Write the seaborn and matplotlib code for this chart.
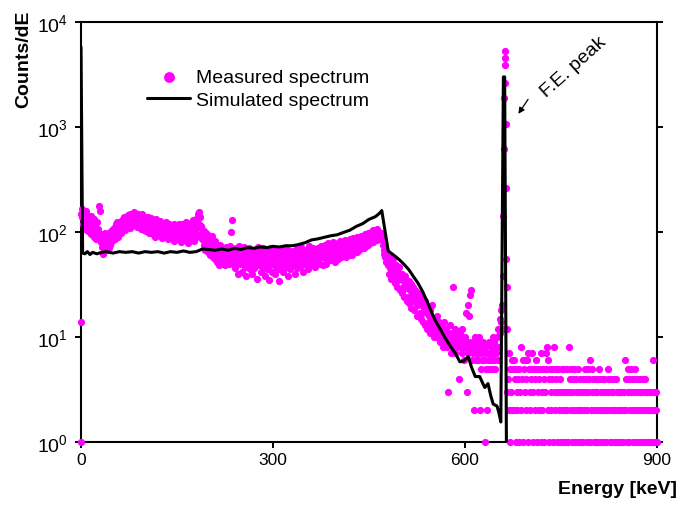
import numpy as np
import pandas as pd
import matplotlib
matplotlib.use("Agg")
import matplotlib.pyplot as plt
from matplotlib.ticker import NullLocator, FixedLocator
import seaborn as sns

sns.set_style("ticks")
plt.rcParams['font.family'] = ['Liberation Sans', 'DejaVu Sans']
for key in ["text.color", "axes.labelcolor", "xtick.color", "ytick.color",
            "axes.edgecolor"]:
    plt.rcParams[key] = "black"

# measured spectrum, 1 keV channels, counts per channel
meas_low = [150,  # E = 0 .. 219
    165, 140, 118, 150, 108, 132, 160, 112, 125, 145,
    102, 138, 115, 128, 95, 142, 110, 121, 98, 133,
    90, 118, 100, 85, 125, 96, 108, 175, 88, 160,
    80, 95, 72, 62, 88, 70, 98, 76, 84, 67,
    78, 92, 70, 88, 100, 75, 95, 82, 105, 88,
    92, 110, 85, 118, 98, 105, 125, 90, 112, 102,
    108, 125, 98, 130, 112, 120, 140, 105, 128, 118,
    130, 115, 145, 120, 138, 110, 150, 125, 135, 118,
    140, 122, 155, 118, 132, 145, 112, 128, 150, 120,
    135, 115, 142, 108, 128, 148, 118, 125, 105, 138,
    120, 102, 132, 110, 140, 98, 125, 115, 135, 105,
    118, 95, 128, 108, 122, 90, 132, 112, 100, 125,
    105, 118, 92, 128, 100, 115, 88, 122, 110, 98,
    112, 95, 125, 102, 118, 85, 108, 120, 96, 110,
    92, 115, 98, 108, 82, 120, 100, 90, 112, 95,
    105, 88, 118, 95, 110, 80, 102, 120, 92, 108,
    85, 112, 95, 125, 90, 105, 78, 115, 100, 92,
    118, 88, 108, 95, 130, 82, 112, 98, 125, 90,
    110, 135, 148, 155, 120, 140, 95, 115, 85, 105,
    92, 75, 100, 68, 88, 72, 95, 65, 82, 70,
    78, 60, 85, 66, 92, 58, 75, 70, 55, 82,
    65, 52, 72, 58, 68, 48, 75, 60, 55]

meas_mid = [  # E = 220 .. 479
    62, 50, 70, 55, 66, 48, 72, 58, 64, 52,
    60, 68, 50, 74, 58, 100, 130, 55, 65, 48,
    62, 45, 70, 52, 66, 40, 58, 74, 50, 60,
    55, 68, 42, 60, 50, 72, 46, 62, 38, 56,
    64, 48, 58, 70, 44, 55, 66, 40, 60, 52,
    58, 45, 68, 50, 62, 36, 55, 72, 48, 60,
    52, 65, 42, 58, 70, 46, 55, 38, 62, 50,
    60, 44, 66, 52, 35, 58, 48, 70, 54, 42,
    62, 50, 56, 40, 68, 46, 58, 52, 64, 44,
    34, 56, 48, 66, 52, 60, 42, 70, 50, 58,
    46, 62, 55, 38, 68, 50, 58, 44, 64, 52,
    60, 48, 66, 55, 40, 62, 52, 70, 45, 58,
    54, 64, 46, 60, 72, 50, 58, 42, 66, 55,
    62, 48, 68, 56, 44, 64, 52, 74, 50, 60,
    58, 66, 48, 70, 55, 62, 46, 68, 58, 64,
    52, 70, 60, 66, 50, 74, 58, 64, 48, 72,
    62, 56, 76, 50, 68, 60, 78, 55, 66, 62,
    72, 54, 64, 80, 58, 70, 62, 52, 75, 66,
    60, 78, 55, 70, 64, 82, 58, 72, 66, 60,
    76, 62, 84, 68, 58, 74, 66, 80, 60, 72,
    70, 85, 64, 76, 60, 88, 72, 66, 82, 70,
    78, 65, 90, 72, 84, 68, 80, 92, 70, 86,
    76, 88, 70, 95, 80, 74, 90, 82, 98, 76,
    86, 94, 78, 100, 84, 92, 80, 104, 88, 96,
    90, 102, 84, 107, 95, 88, 100, 92, 86, 98,
    95, 85, 76, 68, 62, 58, 52, 66, 55, 48]

meas_edge = [  # E = 480 .. 659
    52, 40, 58, 45, 36, 50, 42, 55, 38, 47,
    44, 33, 48, 38, 30, 42, 35, 46, 28, 40,
    36, 26, 40, 30, 34, 24, 38, 29, 33, 22,
    30, 24, 34, 21, 28, 32, 19, 26, 30, 23,
    25, 18, 28, 21, 24, 16, 26, 20, 23, 17,
    21, 15, 24, 17, 20, 14, 19, 22, 13, 18,
    17, 12, 19, 14, 16, 11, 18, 13, 15, 20,
    12, 15, 10, 14, 11, 13, 16, 10, 12, 14,
    11, 9, 13, 10, 12, 8, 11, 14, 9, 10,
    10, 12, 8, 11, 3, 9, 10, 13, 7, 9,
    11, 30, 8, 10, 12, 7, 9, 11, 8, 10,
    9, 4, 11, 8, 10, 7, 12, 9, 6, 8,
    10, 8, 17, 3, 20, 7, 9, 16, 25, 28,
    8, 6, 9, 7, 2, 10, 8, 6, 9, 7,
    8, 6, 10, 7, 2, 5, 8, 6, 9, 7,
    6, 1, 8, 5, 2, 7, 6, 9, 5, 7,
    8, 6, 5, 7, 10, 9, 6, 5, 8, 7,
    10, 6, 12, 8, 15, 11, 18, 14, 20, 12]

meas_tail = [  # E = 666 .. 900
    3, 4, 2, 7, 5, 1, 3, 6, 2, 5,
    6, 2, 4, 1, 5, 3, 2, 4, 1, 5,
    3, 8, 2, 4, 1, 6, 5, 3, 6, 2,
    4, 6, 7, 1, 5, 3, 2, 4, 5, 7,
    1, 3, 5, 2, 4, 6, 1, 5, 3, 2,
    4, 5, 1, 7, 3, 2, 5, 4, 1, 3,
    5, 7, 8, 6, 2, 4, 1, 5, 3, 2,
    4, 5, 1, 8, 3, 2, 5, 4, 1, 3,
    5, 2, 4, 1, 3, 5, 2, 1, 3, 5,
    2, 1, 3, 5, 2, 1, 3, 8, 4, 2,
    5, 1, 3, 4, 2, 5, 1, 3, 4, 2,
    5, 1, 3, 2, 4, 1, 2, 3, 4, 1,
    2, 5, 3, 4, 1, 2, 5, 3, 4, 6,
    1, 2, 5, 3, 4, 1, 2, 3, 4, 1,
    2, 3, 1, 5, 4, 2, 3, 1, 4, 2,
    3, 1, 4, 2, 3, 1, 2, 5, 4, 3,
    1, 2, 4, 3, 1, 2, 3, 4, 1, 2,
    4, 3, 1, 2, 3, 1, 2, 3, 1, 2,
    3, 1, 2, 3, 6, 4, 2, 1, 3, 5,
    4, 1, 2, 3, 5, 4, 2, 1, 3, 4,
    5, 2, 1, 3, 4, 2, 1, 3, 4, 2,
    1, 3, 4, 2, 1, 3, 4, 2, 1, 3,
    2, 1, 3, 2, 1, 3, 2, 1, 6, 2,
    3, 1, 2, 3, 1]

# finer channels near 0 keV and in the full-energy peak
extra_E = [0.3, 0.6, 659.0, 659.5, 660.5, 661.5, 662.0, 662.3, 662.6,
           663.0, 663.4, 664.0, 664.5, 665.0, 665.5]
extra_counts = [14, 1, 38, 142, 620, 1900, 3900, 4500, 5300,
                2630, 1070, 260, 55, 30, 12]

# simulated spectrum
sim_E = [0, 2.5, 6, 10, 14, 18, 25, 32, 40, 50, 60, 70, 80, 90, 100, 110,
         120, 130, 140, 150, 160, 170, 180, 190, 200, 210, 220, 230, 240,
         250, 260, 270, 280, 290, 300, 310, 320, 330, 340, 350, 360, 370,
         380, 390, 400, 410, 420, 430, 440, 450, 460, 466, 470, 480, 486,
         492, 498, 505, 512, 519, 526, 534, 542, 550, 556, 561, 568, 577,
         585, 592, 598, 605, 610, 616, 623, 628, 631, 636, 640, 644, 650,
         653, 656, 660, 662, 665.5]
sim_counts = [5800, 63, 62, 65, 61, 64, 62, 64, 65, 63, 65, 64, 65, 63, 65,
              64, 65, 63, 65, 64, 66, 64, 65, 69, 68, 67, 69, 67, 70, 68, 71,
              70, 72, 71, 73, 72, 74, 74, 76, 79, 84, 86, 89, 92, 94, 99,
              104, 113, 120, 132, 140, 150, 160, 66, 62, 58, 54, 49, 44, 38,
              33, 27, 21, 16, 13.5, 12, 10, 8.2, 7, 5.8, 5.9, 6.5, 5.2, 4.2,
              4.2, 3.6, 3.3, 3.6, 2.8, 2.3, 2.2, 1.9, 1.55, 3000, 3000, 0.1]

sections = [(0, meas_low), (220, meas_mid), (480, meas_edge), (666, meas_tail)]
E_list, C_list = [], []
for start, vals in sections:
    E_list.append(np.arange(start, start + len(vals)))
    C_list.append(np.array(vals, dtype=float))
meas = pd.DataFrame({
    "E": np.concatenate(E_list + [np.array(extra_E)]),
    "counts": np.concatenate(C_list + [np.array(extra_counts, dtype=float)]),
})
sim = pd.DataFrame({"E": sim_E, "counts": sim_counts})

fig = plt.figure(figsize=(6.82, 5.06), dpi=100)
ax = fig.add_axes([0.1188, 0.1245, 0.8445, 0.83])

sns.scatterplot(data=meas, x="E", y="counts", color="#FF00FF", s=27,
                linewidth=0, ax=ax, label="Measured spectrum",
                zorder=3, clip_on=False)
sns.lineplot(data=sim, x="E", y="counts", color="black", lw=2.2, ax=ax,
             label="Simulated spectrum", zorder=4, sort=False)

ax.set_yscale("log")
ax.set_xlim(0, 900)
ax.set_ylim(1, 1e4)
ax.xaxis.set_major_locator(FixedLocator([0, 300, 600, 900]))
ax.yaxis.set_major_locator(FixedLocator([1, 10, 100, 1000, 10000]))
ax.yaxis.set_minor_locator(NullLocator())
ax.xaxis.set_minor_locator(NullLocator())
ax.tick_params(axis="both", which="major", direction="out", length=4.5,
               width=1.4, right=True)
ax.tick_params(axis="x", labelsize=12.5, pad=3)
ax.tick_params(axis="y", labelsize=14, pad=5)
for sp in ax.spines.values():
    sp.set_linewidth(1.5)
    sp.set_visible(True)
ax.set_xlabel("")
ax.set_ylabel("")

ax.text(1.035, -0.11, "Energy [keV]", transform=ax.transAxes, ha="right",
        va="center", fontsize=14, fontweight="bold")
ax.text(-0.099, 1.031, "Counts/dE", transform=ax.transAxes, ha="center",
        va="top", rotation=90, fontsize=14, fontweight="bold")

ax.annotate("", xy=(681, 1270), xytext=(701, 1930),
            arrowprops=dict(arrowstyle="-|>", color="black", lw=0.9,
                            mutation_scale=9))
ax.text(769, 3800, "F.E. peak", rotation=42, ha="center", va="center",
        fontsize=14)

ax.legend(loc="upper left", bbox_to_anchor=(0.115, 0.89), frameon=False,
          fontsize=14, handlelength=2.2, handletextpad=0.3,
          labelspacing=0.3, markerscale=1.5, borderpad=0, borderaxespad=0)

fig.savefig("out.png", dpi=100)
